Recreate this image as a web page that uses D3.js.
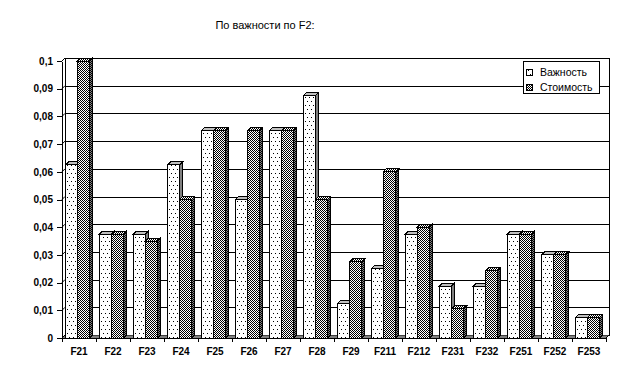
<!DOCTYPE html>
<html>
<head>
<meta charset="utf-8">
<script src="https://d3js.org/d3.v7.min.js"></script>
<style>
  body { margin: 0; background: #fff; }
  svg { shape-rendering: crispEdges; }
  text { font-family: "Liberation Sans", Arial, sans-serif; fill: #000; }
  .tick text { font-weight: bold; font-size: 10px; }
</style>
</head>
<body>
<svg id="chart" width="640" height="376"></svg>
<script>
// chart data
var categories = ["F21","F22","F23","F24","F25","F26","F27","F28","F29","F211","F212","F231","F232","F251","F252","F253"];
var seriesNames = ["Важность", "Стоимость"];
var vazhnost  = [0.0625, 0.0375, 0.0375, 0.0625, 0.075, 0.05, 0.075, 0.0875, 0.0125, 0.025, 0.0375, 0.01875, 0.01875, 0.0375, 0.03, 0.0075];
var stoimost  = [0.1, 0.0375, 0.035, 0.05, 0.075, 0.075, 0.075, 0.05, 0.0275, 0.06, 0.04, 0.0105, 0.0243, 0.0375, 0.03, 0.0075];
var yTicks = [0, 0.01, 0.02, 0.03, 0.04, 0.05, 0.06, 0.07, 0.08, 0.09, 0.1];
var title = "По важности по F2:";

var svg = d3.select("#chart");
var dx = 3, dy = 3; // depth of the 3d look

var x = d3.scaleBand().domain(categories).range([62, 606]).padding(0);
var inner = d3.scaleBand().domain(seriesNames).range([3.5, 27.5]);
var y = d3.scaleLinear().domain([0, 0.1]).range([338, 61]);

// patterns
var defs = svg.append("defs");
var dots = defs.append("pattern").attr("id", "dots").attr("patternUnits", "userSpaceOnUse")
  .attr("width", 4).attr("height", 8);
dots.append("rect").attr("width", 4).attr("height", 8).attr("fill", "#fff");
dots.append("rect").attr("x", 1).attr("y", 1).attr("width", 1).attr("height", 1).attr("fill", "#000");
dots.append("rect").attr("x", 3).attr("y", 5).attr("width", 1).attr("height", 1).attr("fill", "#000");

var check = defs.append("pattern").attr("id", "check").attr("patternUnits", "userSpaceOnUse")
  .attr("width", 2).attr("height", 2);
check.append("rect").attr("width", 2).attr("height", 2).attr("fill", "#fff");
check.append("rect").attr("width", 1).attr("height", 1).attr("fill", "#000");
check.append("rect").attr("x", 1).attr("y", 1).attr("width", 1).attr("height", 1).attr("fill", "#000");

var checkDark = defs.append("pattern").attr("id", "checkDark").attr("patternUnits", "userSpaceOnUse")
  .attr("width", 2).attr("height", 2);
checkDark.append("rect").attr("width", 2).attr("height", 2).attr("fill", "#808080");
checkDark.append("rect").attr("width", 1).attr("height", 1).attr("fill", "#000");
checkDark.append("rect").attr("x", 1).attr("y", 1).attr("width", 1).attr("height", 1).attr("fill", "#000");

// title
svg.append("text").attr("x", 265).attr("y", 29).attr("text-anchor", "middle")
  .style("font-size", "11px").text(title);

var x0 = x.range()[0], x1 = x.range()[1], y0 = y(0), yTop = y(0.1);

// back wall + gridlines
svg.append("rect").attr("x", x0 + dx).attr("y", yTop - dy)
  .attr("width", x1 - x0).attr("height", y0 - yTop)
  .attr("fill", "#fff").attr("stroke", "#000");
svg.append("g").selectAll("line").data(yTicks.slice(1, -1)).enter().append("line")
  .attr("x1", x0 + dx).attr("x2", x1 + dx)
  .attr("y1", d => Math.round(y(d) - dy) + 0.5).attr("y2", d => Math.round(y(d) - dy) + 0.5)
  .attr("stroke", "#000");
// side wall gridlines
svg.append("g").selectAll("line").data(yTicks).enter().append("line")
  .attr("x1", x0).attr("x2", x0 + dx)
  .attr("y1", d => y(d)).attr("y2", d => y(d) - dy)
  .attr("stroke", "#000").style("shape-rendering", "auto");

// floor
svg.append("polygon")
  .attr("points", [[x0, y0], [x1, y0], [x1 + dx, y0 - dy], [x0 + dx, y0 - dy]].join(" "))
  .attr("fill", "#808080").attr("stroke", "#000").attr("stroke-width", 0.5);

// bars
function bar(g, bx, v, front, side, top) {
  var w = inner.bandwidth(), t = y(v);
  g.append("polygon")
    .attr("points", [[bx + w, t], [bx + w + dx, t - dy], [bx + w + dx, y0 - dy], [bx + w, y0]].join(" "))
    .attr("fill", side).attr("stroke", "#000").attr("stroke-width", 1);
  g.append("polygon")
    .attr("points", [[bx, t], [bx + dx, t - dy], [bx + w + dx, t - dy], [bx + w, t]].join(" "))
    .attr("fill", top).attr("stroke", "#000").attr("stroke-width", 1);
  g.append("rect").attr("x", bx).attr("y", t).attr("width", w).attr("height", y0 - t)
    .attr("fill", front).attr("stroke", "#000").attr("stroke-width", 1);
}

var bars = svg.append("g");
categories.forEach(function (c, i) {
  var g = bars.append("g");
  bar(g, x(c) + inner(seriesNames[0]), vazhnost[i], "url(#dots)", "#808080", "#c0c0c0");
  bar(g, x(c) + inner(seriesNames[1]), stoimost[i], "url(#check)", "url(#checkDark)", "url(#check)");
});

// right wall edge
svg.append("line").attr("x1", x1).attr("y1", y0).attr("x2", x1 + dx).attr("y2", y0 - dy)
  .attr("stroke", "#000").style("shape-rendering", "auto");

// y axis
var fmt = d3.format(".2~f");
svg.append("g").attr("transform", "translate(" + x0 + ",0)")
  .call(d3.axisLeft(y).tickValues(yTicks).tickSizeInner(5).tickSizeOuter(0).tickPadding(4)
    .tickFormat(d => fmt(d).replace(".", ",")))
  .call(g => g.selectAll("line, path").attr("stroke", "#000"))
  .call(g => g.selectAll("text").attr("font-family", null));

// x axis: labels centred, ticks at category boundaries
var xa = svg.append("g").attr("transform", "translate(0," + y0 + ")")
  .call(d3.axisBottom(x).tickSize(0).tickPadding(10))
  .call(g => g.select("path").attr("stroke", "#000"))
  .call(g => g.selectAll("text").attr("font-family", null));
xa.selectAll("line.bound").data(categories.concat([null])).enter().append("line")
  .attr("class", "bound")
  .attr("x1", (d, i) => d ? x(d) : x1).attr("x2", (d, i) => d ? x(d) : x1)
  .attr("y1", 0).attr("y2", 4).attr("stroke", "#000");

// legend
var leg = svg.append("g").attr("transform", "translate(523,61)");
leg.append("rect").attr("width", 76).attr("height", 32).attr("fill", "#fff").attr("stroke", "#000");
var legFill = ["url(#dots)", "url(#check)"];
seriesNames.forEach(function (s, i) {
  var yy = 8 + i * 15;
  leg.append("rect").attr("x", 3).attr("y", yy).attr("width", 6).attr("height", 6)
    .attr("fill", legFill[i]).attr("stroke", "#000");
  leg.append("text").attr("x", 17).attr("y", yy + 6.5).style("font-size", "10.5px").text(s);
});
</script>
</body>
</html>
